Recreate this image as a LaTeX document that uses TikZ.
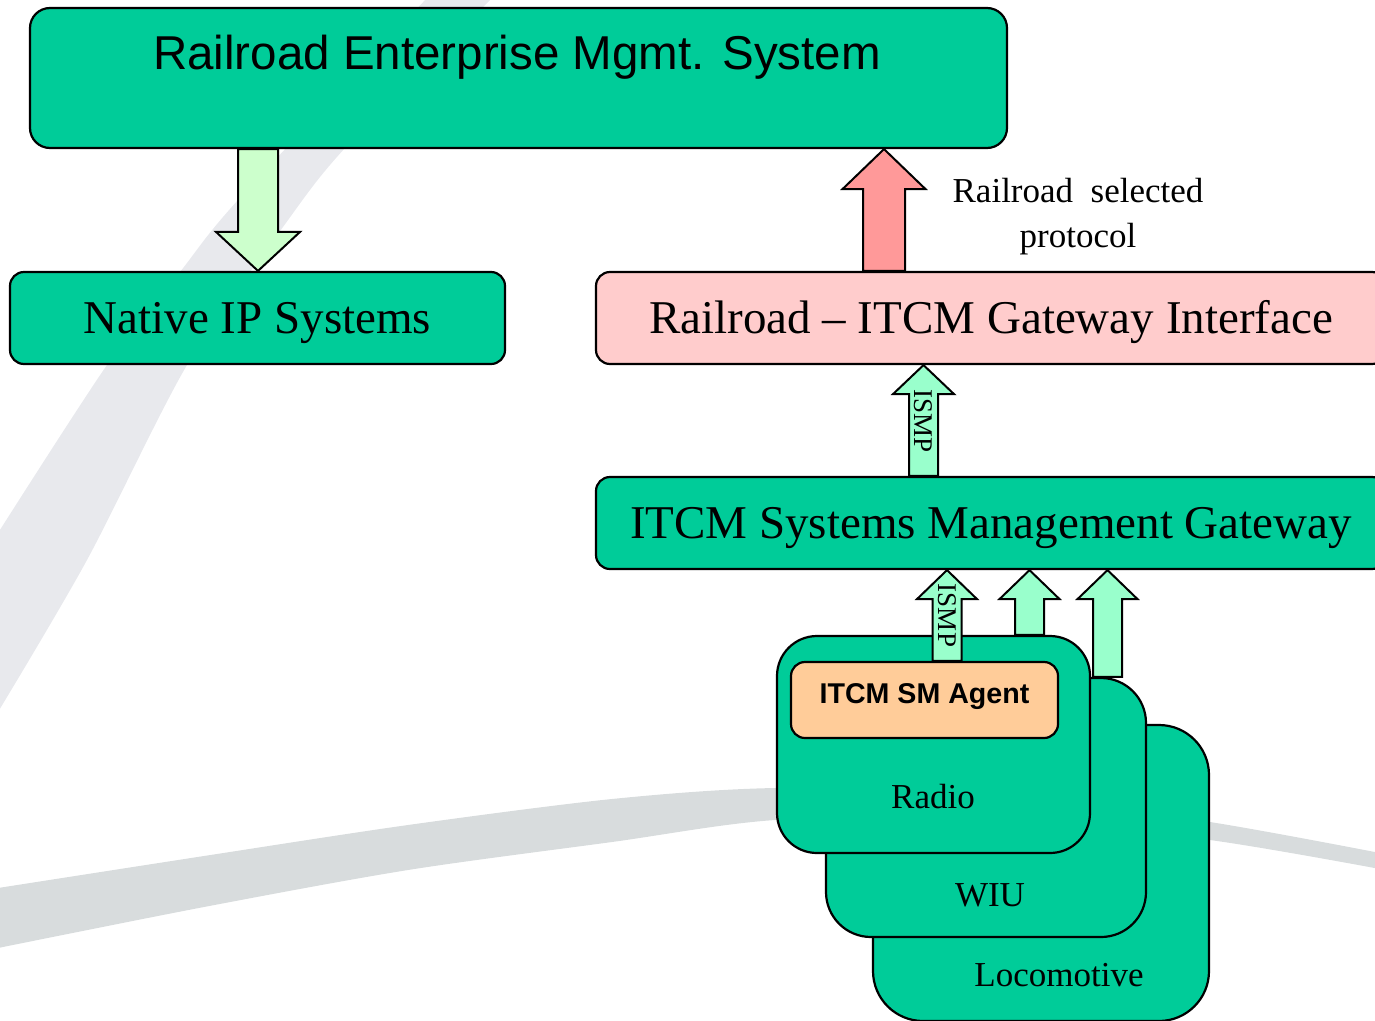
\documentclass[tikz,border=0pt]{standalone}
\usepackage{fontspec}
\setmainfont{Liberation Serif}
\setsansfont{Liberation Sans}
\usetikzlibrary{calc}

\definecolor{boxgreen}{RGB}{0,204,153}
\definecolor{gatepink}{RGB}{255,204,204}
\definecolor{protored}{RGB}{255,153,153}
\definecolor{downgreen}{RGB}{204,255,204}
\definecolor{ismpgreen}{RGB}{153,255,204}
\definecolor{agentorange}{RGB}{255,204,153}
\definecolor{swooshA}{RGB}{232,233,237}
\definecolor{swooshB}{RGB}{216,220,221}

% style, x, from, to, half shaft, half head, head length
\newcommand{\blockarrow}[7]{%
  \draw[#1] let \p1=(#3), \p2=(#4), \n1={sign(\y2-\y1)} in
    ({#2pt-#5pt},\y1) -- ({#2pt-#5pt},{\y2-(\n1)*#7pt}) -- ({#2pt-#6pt},{\y2-(\n1)*#7pt})
    -- ({#2pt},\y2) -- ({#2pt+#6pt},{\y2-(\n1)*#7pt}) -- ({#2pt+#5pt},{\y2-(\n1)*#7pt})
    -- ({#2pt+#5pt},\y1) -- cycle;}

\begin{document}
\begin{tikzpicture}[x=1pt,y=-1pt,
    greenbox/.style={draw=black,line width=2.2pt,fill=boxgreen,inner sep=0pt,rounded corners=14pt},
    cardbox/.style={greenbox,rounded corners=#1},
    bigsans/.style={font=\sffamily\fontsize{47.5pt}{52pt}\selectfont,text height=34pt,text depth=0pt},
    bigserif/.style={font=\fontsize{47pt}{50pt}\selectfont,text height=31pt,text depth=0pt},
    midserif/.style={font=\fontsize{35pt}{45pt}\selectfont,text height=23pt,text depth=0pt,inner sep=0pt},
    ismplbl/.style={font=\fontsize{27pt}{30pt}\selectfont,text height=18pt,text depth=0pt,inner sep=0pt,rotate=-90},
    blk/.style={draw=black,line width=2pt,fill=#1}]
\clip (0,0) rectangle (1375,1020);

\fill[swooshA] plot[smooth] coordinates {(427,-2) (238,200) (180,272) (107,365) (-2,533)}
  -- plot[smooth] coordinates {(-2,712) (87,560) (187,365) (283,227) (345,148) (492,-2)} -- cycle;
\fill[swooshB] plot[smooth] coordinates {(-2,888) (204,856) (408,825) (612,799) (775,788) (990,792) (1210,822) (1380,853)}
  -- plot[smooth] coordinates {(1380,869) (1210,840) (990,816) (775,820) (612,842) (408,870) (204,907) (-2,948)} -- cycle;

\node[greenbox,rounded corners=20pt,minimum width=977pt,minimum height=140pt] (rems) at (518.5,78) {};
\node[bigsans,inner sep=0pt] (remslbl) at (517,52.5) {Railroad Enterprise Mgmt. System};
\node[greenbox,bigserif,minimum width=495pt,minimum height=92pt] (native) at (257.5,318) {Native IP Systems};
\node[greenbox,fill=gatepink,bigserif,minimum width=790pt,minimum height=92pt] (gi) at (991,318) {Railroad -- ITCM Gateway Interface};
\node[greenbox,bigserif,minimum width=790pt,minimum height=92pt] (smg) at (991,523) {ITCM Systems Management Gateway};

\node[cardbox=50pt,minimum width=336pt,minimum height=296pt] (loco) at (1041,873) {};
\node[cardbox=45pt,minimum width=320pt,minimum height=259pt] (wiu) at (986,807.5) {};
\node[cardbox=40pt,minimum width=313pt,minimum height=217pt] (radio) at (933.5,744.5) {};
\node[greenbox,fill=agentorange,font=\sffamily\bfseries\fontsize{28.6pt}{30pt}\selectfont,text height=20pt,text depth=14pt,
      minimum width=267pt,minimum height=76pt] (agent) at (924.5,700) {ITCM SM Agent};
\node[midserif] (radiolbl) at (933,797) {Radio};
\node[midserif] (wiulbl) at (990,895) {WIU};
\node[midserif] (locolbl) at (1059,975) {Locomotive};

\blockarrow{blk=downgreen}{258}{rems.south}{native.north}{20}{42}{39}
\blockarrow{blk=protored}{884}{gi.north}{rems.south}{21}{41.5}{40}
\blockarrow{blk=ismpgreen}{923.5}{smg.north}{gi.south}{14.5}{30.5}{29}
\blockarrow{blk=ismpgreen}{947}{agent.north}{smg.south}{14.5}{30}{29}
\blockarrow{blk=ismpgreen}{1029.5}{radio.north}{smg.south}{14.5}{30}{29}
\blockarrow{blk=ismpgreen}{1107.5}{wiu.north}{smg.south}{14.5}{30}{29}

\node[ismplbl] (ismpup) at (923.5,421) {ISMP};
\node[ismplbl] (ismpagent) at (947,615.5) {ISMP};
\node[font=\fontsize{35pt}{45pt}\selectfont,align=center,inner sep=0pt] (protonote) at (1078,217) {Railroad\ \ selected\\protocol};
\end{tikzpicture}
\end{document}
